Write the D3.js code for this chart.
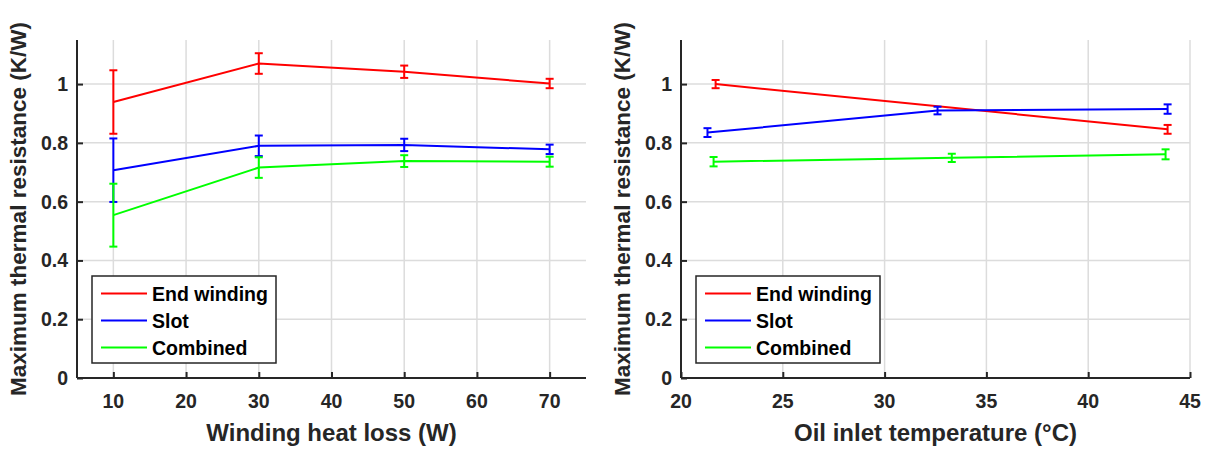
<!DOCTYPE html>
<html>
<head>
<meta charset="utf-8">
<script src="https://cdn.jsdelivr.net/npm/d3@7"></script>
<style>
  html, body { margin: 0; padding: 0; background: #fff; }
  svg text { font-family: "Liberation Sans", Arial, Helvetica, sans-serif; font-weight: bold; fill: #262626; }
</style>
</head>
<body>
<svg id="chart" width="1208" height="450"></svg>
<script>
// ---------- Data ----------
const seriesNames = ["End winding", "Slot", "Combined"];
const seriesColors = ["#ff0000", "#0000ff", "#00ff00"];

// Left panel: winding heat loss (W)
const heatLossX = [10, 30, 50, 70];
const endWindingByLoss = [0.939, 1.070, 1.042, 1.002];
const endWindingByLossErr = [0.108, 0.035, 0.021, 0.016];
const slotByLoss = [0.707, 0.790, 0.793, 0.778];
const slotByLossErr = [0.108, 0.035, 0.021, 0.016];
const combinedByLoss = [0.554, 0.716, 0.738, 0.736];
const combinedByLossErr = [0.107, 0.035, 0.020, 0.017];

// Right panel: oil inlet temperature (°C)
const endWindingTempX = [21.7, 43.9];
const endWindingByTemp = [1.000, 0.846];
const endWindingByTempErr = [0.014, 0.015];
const slotTempX = [21.3, 32.6, 43.9];
const slotByTemp = [0.835, 0.910, 0.915];
const slotByTempErr = [0.015, 0.013, 0.016];
const combinedTempX = [21.6, 33.3, 43.8];
const combinedByTemp = [0.736, 0.749, 0.761];
const combinedByTempErr = [0.016, 0.014, 0.017];

const yTicks = [0, 0.2, 0.4, 0.6, 0.8, 1];
const leftXTicks = [10, 20, 30, 40, 50, 60, 70];
const rightXTicks = [20, 25, 30, 35, 40, 45];

const yLabel = "Maximum thermal resistance (K/W)";
const leftXLabel = "Winding heat loss (W)";
const rightXLabel = "Oil inlet temperature (°C)";

// ---------- Drawing ----------
const svg = d3.select("#chart");
const AX = "#262626";
const GRID = "#dcdcdc";

function zip(xs, ys, es) { return xs.map((x, i) => ({ x, y: ys[i], e: es[i] })); }

function panel(opts) {
  const g = svg.append("g");
  const x = d3.scaleLinear().domain(opts.xDomain).range([opts.x0, opts.x1]);
  const y = d3.scaleLinear().domain([0, 1.15]).range([378, 40]);

  // grid
  g.append("g").selectAll("line").data(opts.xTicks).join("line")
    .attr("x1", d => x(d)).attr("x2", d => x(d))
    .attr("y1", y(0)).attr("y2", y(1.15))
    .attr("stroke", GRID).attr("stroke-width", 1.5);
  g.append("g").selectAll("line").data(yTicks).join("line")
    .attr("x1", opts.x0).attr("x2", opts.x1)
    .attr("y1", d => y(d)).attr("y2", d => y(d))
    .attr("stroke", GRID).attr("stroke-width", 1.5);

  // axes (inward ticks)
  const xAxis = d3.axisTop(x).tickValues(opts.xTicks).tickSize(6).tickFormat("");
  const gx = g.append("g").attr("transform", `translate(0,${y(0)})`).call(xAxis);
  gx.select(".domain").attr("d", `M${opts.x0},0H${opts.x1}`);
  const yAxis = d3.axisRight(y).tickValues(yTicks).tickSize(6).tickFormat("");
  const gy = g.append("g").attr("transform", `translate(${opts.x0},0)`).call(yAxis);
  gy.select(".domain").attr("d", `M0,${y(0)}V${y(1.15)}`);
  [gx, gy].forEach(a => {
    a.selectAll("path,line").attr("stroke", AX).attr("stroke-width", 2);
  });

  // tick labels
  g.append("g").selectAll("text").data(opts.xTicks).join("text")
    .attr("x", d => x(d)).attr("y", 408)
    .attr("text-anchor", "middle").attr("font-size", 19.5)
    .text(d => d);
  g.append("g").selectAll("text").data(yTicks).join("text")
    .attr("x", opts.x0 - 9).attr("y", d => y(d)).attr("dy", "0.36em")
    .attr("text-anchor", "end").attr("font-size", 19.5)
    .text(d => d === 0 ? "0" : d === 1 ? "1" : d.toFixed(1));

  // axis labels
  g.append("text").attr("x", (opts.x0 + opts.x1) / 2).attr("y", 441)
    .attr("text-anchor", "middle").attr("font-size", 24).text(opts.xLabel);
  g.append("text")
    .attr("transform", `translate(${opts.x0 - 51},${(y(0) + y(1.15)) / 2}) rotate(-90)`)
    .attr("text-anchor", "middle").attr("font-size", 22.5).text(yLabel);

  // series
  const line = d3.line().x(d => x(d.x)).y(d => y(d.y));
  opts.series.forEach((s, i) => {
    const col = seriesColors[i];
    const sg = g.append("g");
    sg.append("path").datum(s).attr("d", line)
      .attr("fill", "none").attr("stroke", col).attr("stroke-width", 2);
    const eb = sg.selectAll("g.eb").data(s).join("g");
    eb.append("line").attr("x1", d => x(d.x)).attr("x2", d => x(d.x))
      .attr("y1", d => y(d.y - d.e)).attr("y2", d => y(d.y + d.e))
      .attr("stroke", col).attr("stroke-width", 2);
    eb.append("line").attr("x1", d => x(d.x) - 4).attr("x2", d => x(d.x) + 4)
      .attr("y1", d => y(d.y + d.e)).attr("y2", d => y(d.y + d.e))
      .attr("stroke", col).attr("stroke-width", 2);
    eb.append("line").attr("x1", d => x(d.x) - 4).attr("x2", d => x(d.x) + 4)
      .attr("y1", d => y(d.y - d.e)).attr("y2", d => y(d.y - d.e))
      .attr("stroke", col).attr("stroke-width", 2);
  });

  // legend
  const lx = opts.x0 + 15, ly = 276, lw = 184, lh = 87;
  const lg = g.append("g");
  lg.append("rect").attr("x", lx).attr("y", ly).attr("width", lw).attr("height", lh)
    .attr("fill", "#fff").attr("stroke", AX).attr("stroke-width", 1.5);
  seriesNames.forEach((n, i) => {
    const yy = ly + 17.5 + i * 27;
    lg.append("line").attr("x1", lx + 9).attr("x2", lx + 55).attr("y1", yy).attr("y2", yy)
      .attr("stroke", seriesColors[i]).attr("stroke-width", 2);
    lg.append("text").attr("x", lx + 60).attr("y", yy).attr("dy", "0.36em")
      .attr("font-size", 19.5).style("fill", "#000").text(n);
  });
}

panel({
  x0: 77, x1: 586, xDomain: [5, 75], xTicks: leftXTicks, xLabel: leftXLabel,
  series: [
    zip(heatLossX, endWindingByLoss, endWindingByLossErr),
    zip(heatLossX, slotByLoss, slotByLossErr),
    zip(heatLossX, combinedByLoss, combinedByLossErr)
  ]
});
panel({
  x0: 681, x1: 1190, xDomain: [20, 45], xTicks: rightXTicks, xLabel: rightXLabel,
  series: [
    zip(endWindingTempX, endWindingByTemp, endWindingByTempErr),
    zip(slotTempX, slotByTemp, slotByTempErr),
    zip(combinedTempX, combinedByTemp, combinedByTempErr)
  ]
});
</script>
</body>
</html>
